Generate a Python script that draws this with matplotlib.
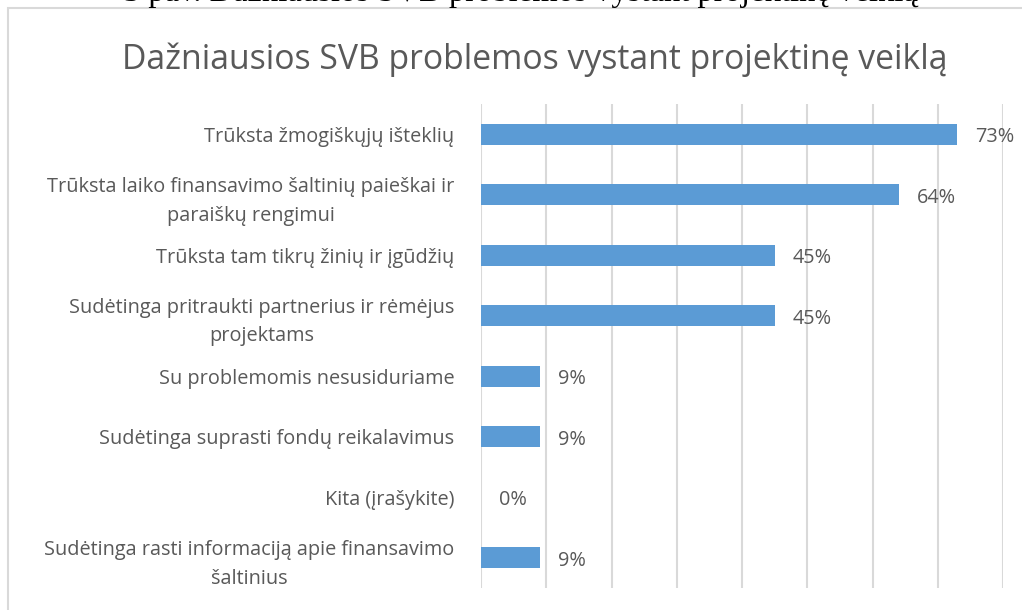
import matplotlib
matplotlib.use("Agg")
import matplotlib.pyplot as plt
from matplotlib.patches import Rectangle

categories = [
    "Trūksta žmogiškųjų išteklių",
    "Trūksta laiko finansavimo šaltinių paieškai ir\nparaiškų rengimui",
    "Trūksta tam tikrų žinių ir įgūdžių",
    "Sudėtinga pritraukti partnerius ir rėmėjus\nprojektams",
    "Su problemomis nesusiduriame",
    "Sudėtinga suprasti fondų reikalavimus",
    "Kita (įrašykite)",
    "Sudėtinga rasti informaciją apie finansavimo\nšaltinius",
]
values = [73, 64, 45, 45, 9, 9, 0, 9]
value_labels = ["73%", "64%", "45%", "45%", "9%", "9%", "0%", "9%"]
title = "Dažniausios SVB problemos vystant projektinę veiklą"
caption = "3 pav. Dažniausios SVB problemos vystant projektinę veiklą"

W, H = 1022, 610
fig = plt.figure(figsize=(W / 100, H / 100), dpi=100)
fig.patch.set_facecolor("white")

FONT = ["Open Sans", "DejaVu Sans"]
GRAY = "#595959"

# chart border
fig.add_artist(Rectangle((8 / W, -0.1), 1.2, (H - 8) / H + 0.1, transform=fig.transFigure,
                         fill=False, edgecolor="#D9D9D9", lw=1.5))

# cut-off caption above chart
fig.text(521 / W, 1 - 1 / H, caption, ha="center", va="baseline",
         fontsize=23.5, family=["Liberation Serif", "DejaVu Serif"], color="black")

ax = fig.add_axes([481 / W, 1 - 588 / H, (1003 - 481) / W, (588 - 104) / H])
n = len(categories)
ypos = list(range(n))
ax.barh(ypos, values, height=0.34, color="#5B9BD5", zorder=3)
ax.set_xlim(0, 80)
ax.set_ylim(n - 0.5, -0.5)
ax.set_xticks(range(0, 81, 10))
ax.set_xticklabels([])
ax.tick_params(axis="x", length=0)
ax.tick_params(axis="y", length=0, pad=19)
ax.grid(axis="x", color="#D9D9D9", lw=1.5, zorder=0)
for s in ax.spines.values():
    s.set_visible(False)
ax.set_yticks(ypos)
ax.set_yticklabels(categories, fontsize=14.3, color=GRAY, family=FONT,
                   multialignment="center", linespacing=1.55)

for y, v, lab in zip(ypos, values, value_labels):
    ax.annotate(lab, (v, y), xytext=(13, -2), textcoords="offset points",
                ha="left", va="center", fontsize=14.3, color=GRAY, family=FONT)

fig.text(535 / W, 1 - 60 / H, title, ha="center", va="center",
         fontsize=24.3, color=GRAY, family=FONT)

fig.savefig("out.png", dpi=100)
